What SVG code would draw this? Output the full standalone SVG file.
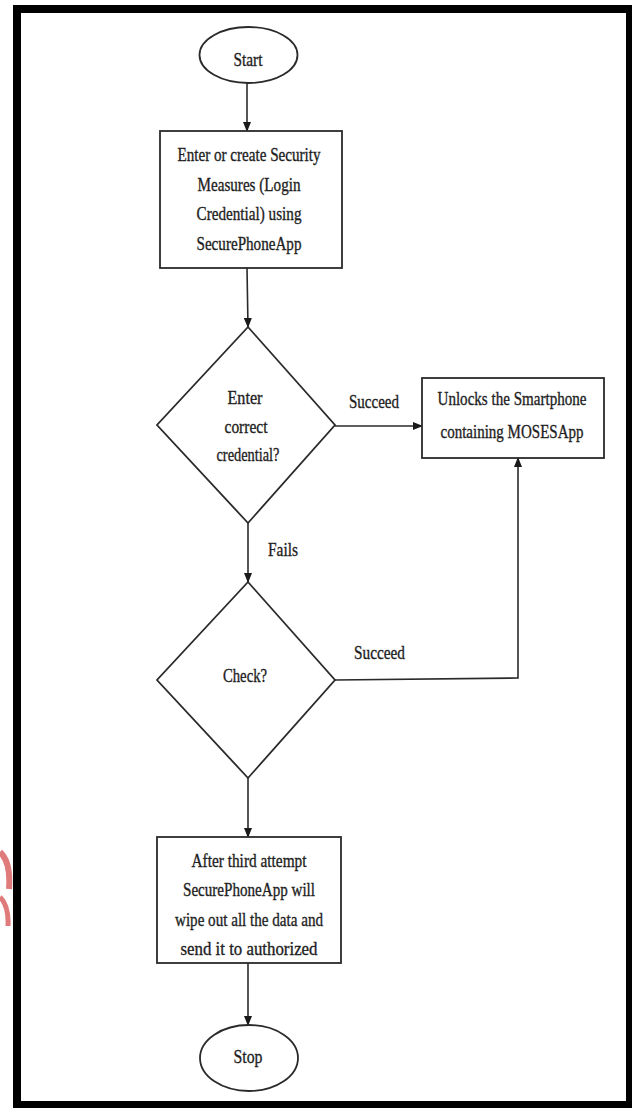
<svg xmlns="http://www.w3.org/2000/svg" width="632" height="1108" viewBox="0 0 632 1108">
  <style>
    .shape { fill: #ffffff; stroke: #2a2a2a; stroke-width: 1.8; }
    .conn { fill: none; stroke: #2a2a2a; stroke-width: 1.6; }
    text { font-family: "Liberation Serif", "Times New Roman", serif; font-size: 19px; fill: #1e1e1e; stroke: #1e1e1e; stroke-width: 0.35; text-anchor: middle; }
    .lbl { text-anchor: start; }
  </style>
  <defs>
    <marker id="arrow" markerWidth="10" markerHeight="8" refX="9" refY="4" orient="auto" markerUnits="userSpaceOnUse">
      <path d="M0,0 L10,4 L0,8 Z" fill="#1a1a1a"/>
    </marker>
  </defs>
  <rect x="0" y="0" width="632" height="1108" fill="#ffffff"/>
  <g id="watermark">
    <path d="M0,852 Q11,862 9,889" fill="none" stroke="#e07b7b" stroke-width="6"/>
    <path d="M0,897 Q9,906 8,926" fill="none" stroke="#e07b7b" stroke-width="5"/>
  </g>
  <rect id="frame" x="17" y="9" width="613" height="1096" fill="none" stroke="#000000" stroke-width="8"/>

  <g id="connectors">
    <line class="conn" x1="247" y1="83" x2="247" y2="131" marker-end="url(#arrow)"/>
    <line class="conn" x1="247" y1="268" x2="248" y2="327" marker-end="url(#arrow)"/>
    <line class="conn" x1="335" y1="426" x2="422" y2="426" marker-end="url(#arrow)"/>
    <line class="conn" x1="248" y1="523" x2="248" y2="582" marker-end="url(#arrow)"/>
    <polyline class="conn" points="335,680 518,678 518,458" marker-end="url(#arrow)"/>
    <line class="conn" x1="248" y1="778" x2="248" y2="837" marker-end="url(#arrow)"/>
    <line class="conn" x1="248" y1="963" x2="248" y2="1025" marker-end="url(#arrow)"/>
    <text class="lbl" x="349" y="408" textLength="50" lengthAdjust="spacingAndGlyphs">Succeed</text>
    <text class="lbl" x="268" y="556" textLength="30" lengthAdjust="spacingAndGlyphs">Fails</text>
    <text class="lbl" x="354" y="659" textLength="51" lengthAdjust="spacingAndGlyphs">Succeed</text>
  </g>

  <g id="start">
    <ellipse class="shape" cx="248.5" cy="55" rx="49" ry="28"/>
    <text x="248" y="66" textLength="29" lengthAdjust="spacingAndGlyphs">Start</text>
  </g>

  <g id="enter-security">
    <rect class="shape" x="160" y="131" width="182" height="137"/>
    <text x="249" y="161" textLength="143" lengthAdjust="spacingAndGlyphs">Enter or create Security</text>
    <text x="249" y="191" textLength="103" lengthAdjust="spacingAndGlyphs">Measures (Login</text>
    <text x="249" y="220" textLength="105" lengthAdjust="spacingAndGlyphs">Credential) using</text>
    <text x="249" y="250" textLength="105" lengthAdjust="spacingAndGlyphs">SecurePhoneApp</text>
  </g>

  <g id="decision-credential">
    <polygon class="shape" points="248,327 335,425 248,523 157,425"/>
    <text x="245" y="404" textLength="35" lengthAdjust="spacingAndGlyphs">Enter</text>
    <text x="246" y="433" textLength="43" lengthAdjust="spacingAndGlyphs">correct</text>
    <text x="248" y="461" textLength="63" lengthAdjust="spacingAndGlyphs">credential?</text>
  </g>

  <g id="unlock">
    <rect class="shape" x="422" y="378" width="182" height="80"/>
    <text x="512" y="405" textLength="149" lengthAdjust="spacingAndGlyphs">Unlocks the Smartphone</text>
    <text x="512" y="438" textLength="143" lengthAdjust="spacingAndGlyphs">containing MOSESApp</text>
  </g>

  <g id="decision-check">
    <polygon class="shape" points="248,582 335,680 248,778 157,680"/>
    <text x="245" y="682" textLength="44" lengthAdjust="spacingAndGlyphs">Check?</text>
  </g>

  <g id="wipe">
    <rect class="shape" x="157" y="837" width="184" height="126"/>
    <text x="249" y="867" textLength="115" lengthAdjust="spacingAndGlyphs">After third attempt</text>
    <text x="249" y="896" textLength="132" lengthAdjust="spacingAndGlyphs">SecurePhoneApp will</text>
    <text x="249" y="926" textLength="148" lengthAdjust="spacingAndGlyphs">wipe out all the data and</text>
    <text x="249" y="955" textLength="137" lengthAdjust="spacingAndGlyphs">send it to authorized</text>
  </g>

  <g id="stop">
    <ellipse class="shape" cx="249" cy="1058" rx="49" ry="33"/>
    <text x="248" y="1063" textLength="29" lengthAdjust="spacingAndGlyphs">Stop</text>
  </g>
</svg>
